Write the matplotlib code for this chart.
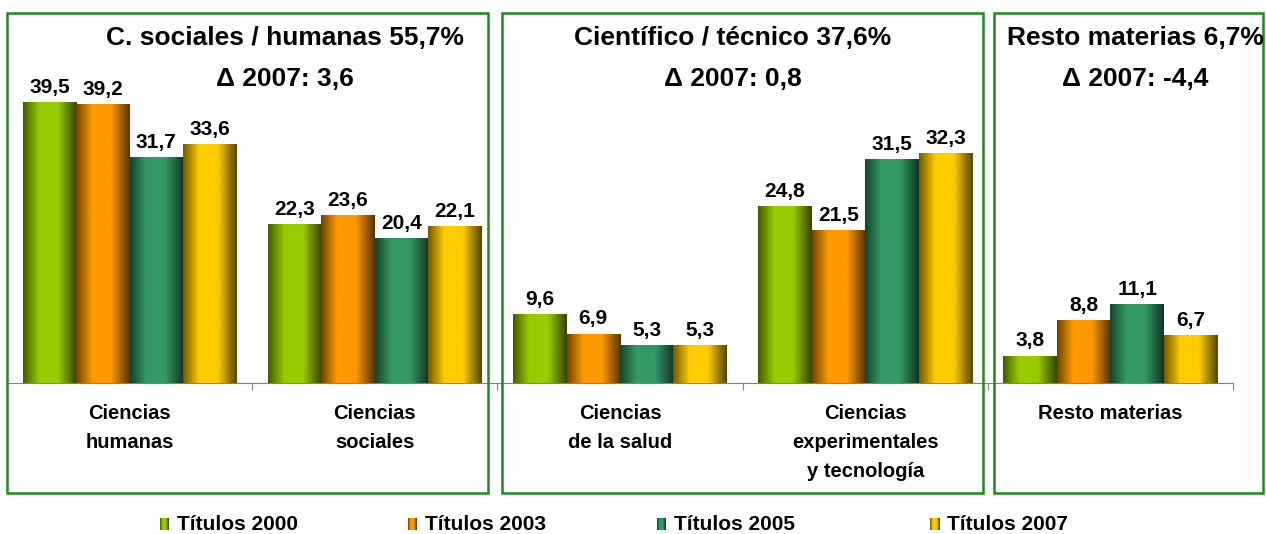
import numpy as np
from matplotlib import pyplot as plt
from matplotlib.colors import to_rgb
from matplotlib.patches import Rectangle

plt.rcParams['font.family'] = ['Liberation Sans', 'DejaVu Sans']
plt.rcParams['font.weight'] = 'bold'

categories = ['Ciencias\nhumanas', 'Ciencias\nsociales', 'Ciencias\nde la salud',
              'Ciencias\nexperimentales\ny tecnología', 'Resto materias']
series = ['Títulos 2000', 'Títulos 2003', 'Títulos 2005', 'Títulos 2007']
t2000 = [39.5, 22.3, 9.6, 24.8, 3.8]
t2003 = [39.2, 23.6, 6.9, 21.5, 8.8]
t2005 = [31.7, 20.4, 5.3, 31.5, 11.1]
t2007 = [33.6, 22.1, 5.3, 32.3, 6.7]
values = [t2000, t2003, t2005, t2007]
colors = ['#99cc00', '#ff9900', '#339966', '#ffcc00']

titles = ['C. sociales / humanas 55,7%', 'Científico / técnico 37,6%', 'Resto materias 6,7%']
deltas = ['Δ 2007: 3,6', 'Δ 2007: 0,8', 'Δ 2007: -4,4']

W, H = 1266, 534


def gradient(color, n=60):
    t = np.linspace(0, 1, n)
    f = np.interp(t, [0, 0.3, 0.65, 1], [0.45, 1, 1, 0.35])
    return (np.array(to_rgb(color))[None, :] * f[:, None])[None, :, :]


fig = plt.figure(figsize=(W / 100, H / 100), dpi=100)
ax = fig.add_axes([7 / W, 151 / H, 1226 / W, 319.5 / H])

x = np.arange(len(categories))
w = 0.218
for i, (vals, c) in enumerate(zip(values, colors)):
    pos = x + (i - 1.5) * w
    bars = ax.bar(pos, vals, w, color=c, zorder=2)
    for b, v in zip(bars, vals):
        x0 = b.get_x()
        ax.imshow(gradient(c), extent=[x0, x0 + w, 0, v], aspect='auto', zorder=3)
        ax.annotate(f'{v:.1f}'.replace('.', ','), (x0 + w / 2, v), xytext=(0, 4),
                    textcoords='offset points', ha='center', va='bottom',
                    fontsize=15, fontweight='bold')

ax.set_xlim(-0.5, len(categories) - 0.5)
ax.set_ylim(0, 45)
for s in ['top', 'right', 'left']:
    ax.spines[s].set_visible(False)
ax.spines['bottom'].set_color('#808080')
ax.set_yticks([])
ax.set_xticks(np.arange(-0.5, len(categories)))
ax.set_xticklabels([])
ax.tick_params(axis='x', direction='out', length=5, color='#808080')

for xi, lab in zip(x, categories):
    ax.text(xi, -2.9, lab, ha='center', va='top', fontsize=14.5,
            fontweight='bold', linespacing=1.68)

# group boxes
boxes = [(7, 488), (502, 983), (994, 1263)]
for bx0, bx1 in boxes:
    fig.patches.append(Rectangle((bx0 / W, 1 - 493 / H), (bx1 - bx0) / W, 480 / H,
                                 transform=fig.transFigure, fill=False,
                                 edgecolor='#1a8c1a', linewidth=1.8))

tx = [285, 733, 1135]
for cx, t, d in zip(tx, titles, deltas):
    fig.text(cx / W, 1 - 38 / H, t, ha='center', va='center', fontsize=19, fontweight='bold')
    fig.text(cx / W, 1 - 79 / H, d, ha='center', va='center', fontsize=19, fontweight='bold')

# legend
lx = [160, 408, 657, 930]
for px, name, c in zip(lx, series, colors):
    lax = fig.add_axes([px / W, 1 - 530 / H, 9 / W, 12 / H])
    lax.imshow(gradient(c), aspect='auto')
    lax.axis('off')
    fig.text((px + 17) / W, 1 - 524 / H, name, ha='left', va='center',
             fontsize=15, fontweight='bold')

fig.savefig('out.png', dpi=100)
